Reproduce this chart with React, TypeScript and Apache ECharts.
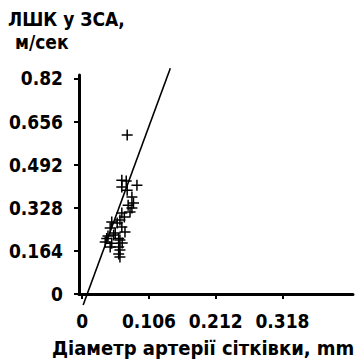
import React, { useEffect, useRef } from "react";
import * as echarts from "echarts";

const xTickValues = [0, 0.106, 0.212, 0.318];
const yTickValues = [0, 0.164, 0.328, 0.492, 0.656, 0.82];

const diameterValues = [
  0.0715, 0.063, 0.07, 0.087, 0.063, 0.0715, 0.079, 0.0815, 0.079, 0.076, 0.063,
  0.073, 0.067, 0.06, 0.0556, 0.047, 0.063, 0.0445, 0.068, 0.0525, 0.05, 0.041,
  0.039, 0.058, 0.06, 0.0366, 0.047, 0.0636, 0.0445, 0.058, 0.06, 0.058, 0.06,
];
const velocityValues = [
  0.605, 0.433, 0.43, 0.414, 0.407, 0.395, 0.369, 0.346, 0.327, 0.312, 0.308,
  0.338, 0.293, 0.281, 0.27, 0.274, 0.255, 0.251, 0.236, 0.232, 0.224, 0.221,
  0.211, 0.211, 0.205, 0.198, 0.193, 0.194, 0.179, 0.179, 0.167, 0.152, 0.141,
];

const regressionX = [0.0016, 0.14];
const regressionY = [-0.042, 0.859];

const yTitleLine1 = "ЛШК у ЗСА,";
const yTitleLine2 = "м/сек";
const xTitle = "Діаметр артерії сітківки, mm";

const FONT = '"Liberation Sans Narrow", "DejaVu Sans Condensed", "Arial Narrow", sans-serif';
const CROSS = "path://M4.75,0H6.25V11H4.75ZM0,4.75H11V6.25H0Z";

export default function App() {
  const ref = useRef<HTMLDivElement>(null);
  useEffect(() => {
    if (!ref.current) return;
    const chart = echarts.init(ref.current, null, { renderer: "svg" });
    const points = diameterValues.map((x, i) => [x, velocityValues[i]]);
    const line = regressionX.map((x, i) => [x, regressionY[i]]);
    chart.setOption({
      animation: false,
      backgroundColor: "#ffffff",
      grid: { left: 79, right: 3, top: 75, bottom: 68 },
      graphic: [
        {
          type: "text",
          left: 8,
          top: 9,
          style: { text: yTitleLine1, font: `bold 19px ${FONT}`, fill: "#000" },
        },
        {
          type: "text",
          left: 15,
          top: 32,
          style: { text: yTitleLine2, font: `bold 19px ${FONT}`, fill: "#000" },
        },
        {
          type: "text",
          left: 52,
          top: 338,
          style: { text: xTitle, font: `bold 20px ${FONT}`, fill: "#000" },
        },
      ],
      xAxis: {
        type: "value",
        min: -0.005,
        max: 0.43,
        splitLine: { show: false },
        axisLine: { onZero: false, lineStyle: { color: "#000", width: 3 } },
        axisTick: {
          customValues: xTickValues,
          length: 5,
          lineStyle: { color: "#000", width: 2 },
        },
        axisLabel: {
          customValues: xTickValues,
          margin: 17,
          color: "#000",
          fontWeight: "bold",
          fontSize: 19,
          fontFamily: FONT,
          formatter: (v: number) => String(v),
        },
      },
      yAxis: {
        type: "value",
        min: 0,
        max: 0.833,
        splitLine: { show: false },
        axisLine: { onZero: false, lineStyle: { color: "#000", width: 3 } },
        axisTick: {
          customValues: yTickValues,
          length: 5,
          lineStyle: { color: "#000", width: 2 },
        },
        axisLabel: {
          customValues: yTickValues,
          margin: 16,
          color: "#000",
          fontWeight: "bold",
          fontSize: 19,
          fontFamily: FONT,
          formatter: (v: number) => String(v),
        },
      },
      series: [
        {
          type: "scatter",
          data: points,
          symbol: CROSS,
          symbolSize: 11,
          itemStyle: { color: "#000", opacity: 1 },
          z: 3,
        },
        {
          type: "line",
          data: line,
          clip: false,
          showSymbol: false,
          symbol: "none",
          lineStyle: { color: "#000", width: 1.6 },
          z: 2,
        },
      ],
    });
    return () => chart.dispose();
  }, []);
  return (
    <div
      ref={ref}
      style={{ position: "absolute", left: 0, top: 0, width: 356, height: 362 }}
    />
  );
}
